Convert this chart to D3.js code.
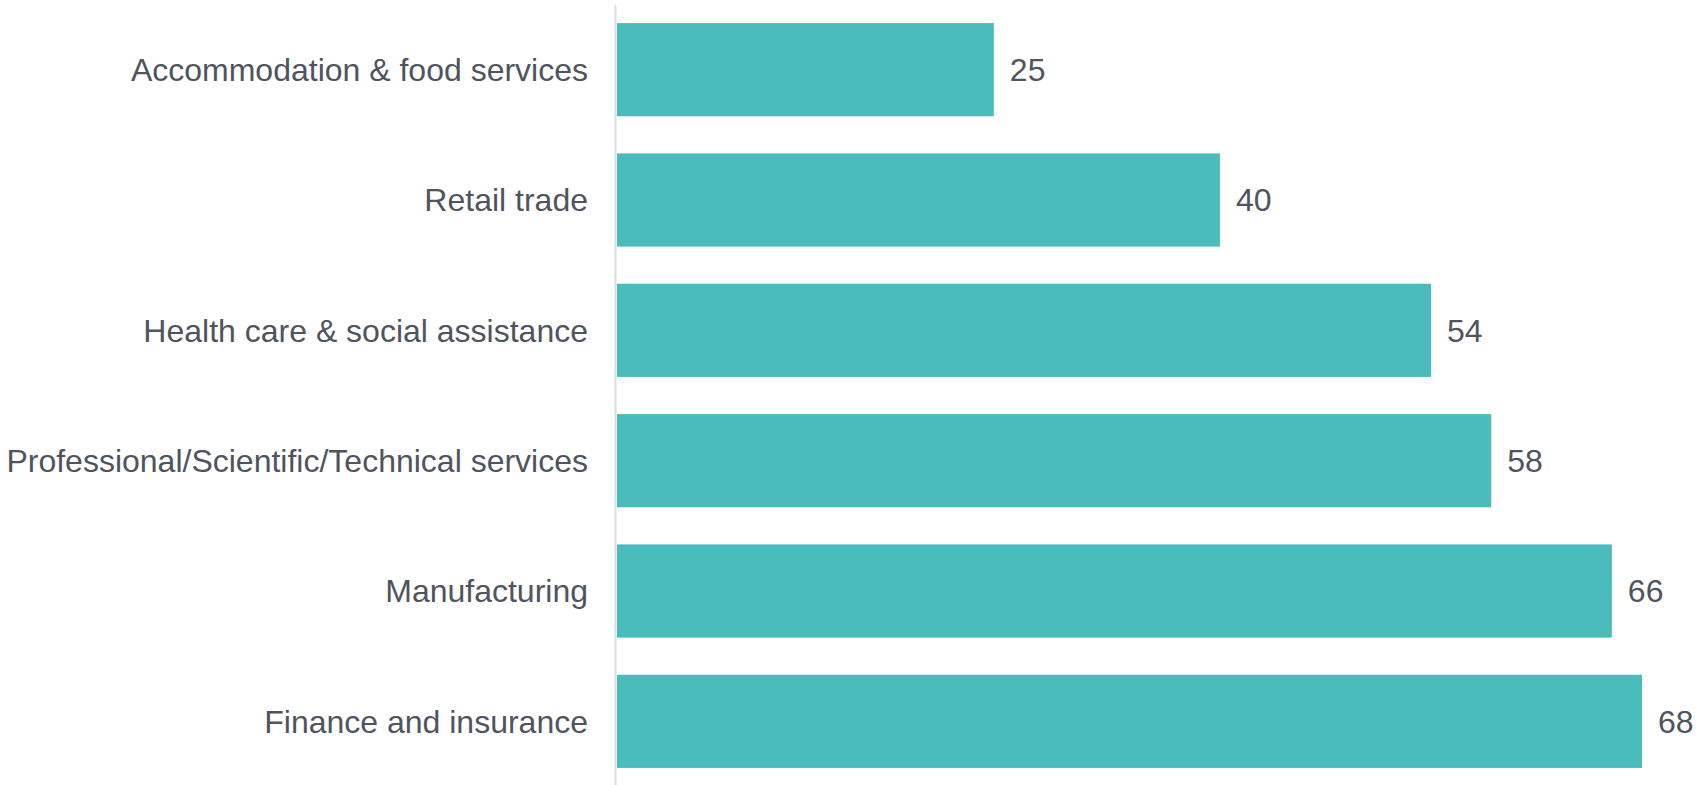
<!DOCTYPE html>
<html>
<head>
<meta charset="utf-8">
<script src="https://cdn.jsdelivr.net/npm/d3@7"></script>
<style>
  body { margin: 0; background: #fff; }
  text { font-family: "Liberation Sans", Arial, sans-serif; }
</style>
</head>
<body>
<script>
// data
var sectors = ['Accommodation & food services', 'Retail trade', 'Health care & social assistance',
  'Professional/Scientific/Technical services', 'Manufacturing', 'Finance and insurance'];
var values = [25, 40, 54, 58, 66, 68];

var width = 1700, height = 785;
var axis_x = 617;
var bar_color = '#4bbcbc', text_color = '#4f545e';

var svg = d3.select('body').append('svg').attr('width', width).attr('height', height);

var x = d3.scaleLinear().domain([0, 68]).range([axis_x, 1642]);
var y = d3.scaleBand().domain(sectors).range([4.5, 786.5]).paddingInner(0.285).paddingOuter(0.1425);

var rows = sectors.map((s, i) => ({name: s, value: values[i]}));

// bars
svg.append('g').selectAll('rect').data(rows).join('rect')
  .attr('x', x(0))
  .attr('y', d => y(d.name))
  .attr('width', d => x(d.value) - x(0))
  .attr('height', y.bandwidth())
  .attr('fill', bar_color);

// category axis line
svg.append('line')
  .attr('x1', axis_x - 1.5).attr('x2', axis_x - 1.5)
  .attr('y1', 5).attr('y2', height)
  .attr('stroke', '#dcdcdc').attr('stroke-width', 2);

// category names
svg.append('g').selectAll('text').data(rows).join('text')
  .attr('x', axis_x - 29)
  .attr('y', d => y(d.name) + y.bandwidth()/2)
  .attr('dy', '0.35em')
  .attr('text-anchor', 'end')
  .attr('font-size', 32)
  .attr('fill', text_color)
  .text(d => d.name);

// value labels
svg.append('g').selectAll('text').data(rows).join('text')
  .attr('x', d => x(d.value) + 16)
  .attr('y', d => y(d.name) + y.bandwidth()/2)
  .attr('dy', '0.35em')
  .attr('font-size', 32)
  .attr('fill', text_color)
  .text(d => d.value);
</script>
</body>
</html>
